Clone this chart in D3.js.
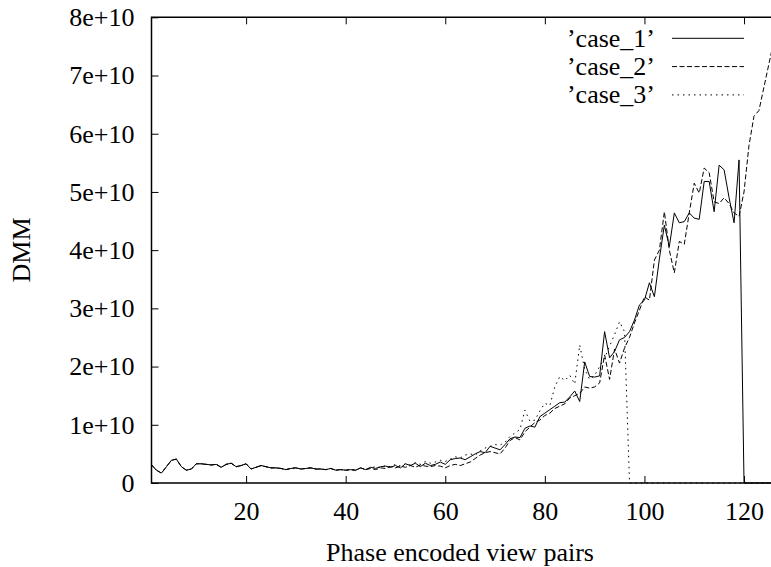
<!DOCTYPE html>
<html>
<head>
<meta charset="utf-8">
<script src="https://cdn.jsdelivr.net/npm/d3@7"></script>
<style>
  body { margin: 0; background: #fff; }
  svg text { font-family: "Liberation Serif", "Times New Roman", serif; font-size: 26px; fill: #000; }
</style>
</head>
<body>
<div id="canvas"></div>
<script>
// values in units of 1e9, one per view pair starting at 1
var case1 = [3.1,2.2,1.7,2.8,3.9,4.1,2.8,2.2,2.4,3.3,
  3.3,3.2,3.1,3.2,2.7,3.2,3.4,2.8,3.0,3.3,
  2.4,2.7,3.0,2.8,2.6,2.6,2.5,2.3,2.5,2.6,
  2.4,2.5,2.6,2.4,2.4,2.3,2.5,2.2,2.3,2.2,
  2.3,2.2,2.6,2.3,2.7,2.5,2.8,2.9,2.7,3.0,
  2.6,3.3,3.0,3.4,2.8,3.4,3.0,3.2,3.6,3.2,
  4.0,4.2,4.3,4.0,4.5,5.0,5.4,5.2,6.3,6.0,
  5.7,6.6,7.6,7.9,7.8,9.4,9.8,9.6,11.4,12.0,
  12.6,13.2,13.8,13.9,14.8,15.8,14.0,20.8,18.3,18.2,
  18.4,26.0,21.5,22.6,24.6,25.0,26.0,28.0,30.6,31.4,
  34.4,32.0,38.5,44.3,40.6,46.4,44.7,44.9,46.4,45.5,
  45.3,51.8,51.8,46.6,54.6,53.8,49.0,44.7,55.5,0,
  0,0,0,0,0,0];

var case2 = [3.1,2.2,1.7,2.8,3.9,4.1,2.8,2.2,2.4,3.3,
  3.3,3.2,3.1,3.2,2.7,3.2,3.4,2.8,3.0,3.3,
  2.4,2.7,3.0,2.8,2.6,2.6,2.5,2.3,2.5,2.6,
  2.4,2.5,2.6,2.4,2.4,2.3,2.5,2.2,2.3,2.2,
  2.3,2.2,2.6,2.3,2.5,2.3,2.6,2.5,2.8,2.6,
  2.9,2.7,3.0,2.7,3.1,2.9,2.8,3.0,2.9,2.6,
  3.0,3.2,3.0,3.3,3.6,4.2,4.8,5.2,5.4,5.2,
  5.0,6.0,7.3,7.8,7.4,8.8,9.6,10.4,10.8,11.6,
  12.0,12.8,13.2,13.6,14.6,15.0,15.4,16.5,16.3,16.5,
  17.2,22.0,17.8,23.0,20.6,23.2,25.0,27.5,29.7,32.0,
  31.4,38.3,40.0,46.6,40.0,36.1,41.5,41.0,46.4,51.5,
  49.8,54.1,53.3,48.3,48.0,49.0,48.0,46.4,45.8,50.0,
  58.0,63.0,64.0,68.0,72.0,76.0];

var case3 = [3.1,2.2,1.7,2.8,3.9,4.1,2.8,2.2,2.4,3.3,
  3.3,3.2,3.1,3.2,2.7,3.2,3.4,2.8,3.0,3.3,
  2.4,2.7,3.0,2.8,2.6,2.6,2.5,2.3,2.5,2.6,
  2.4,2.5,2.6,2.4,2.4,2.3,2.5,2.2,2.3,2.2,
  2.3,2.2,2.6,2.3,2.6,2.8,2.6,3.0,2.8,3.2,
  2.9,3.3,3.1,3.5,3.2,3.7,3.4,3.6,3.9,3.7,
  4.1,4.5,4.3,4.8,5.0,4.8,5.5,6.0,6.3,6.6,
  6.5,7.0,8.0,8.6,9.2,12.5,10.6,10.8,12.4,13.7,
  13.3,16.5,18.3,17.6,18.5,17.0,23.7,19.5,17.8,18.5,
  20.0,21.5,23.5,25.5,27.7,26.0,0,0,0,0,
  0,0,0,0,0,0,0,0,0,0,
  0,0,0,0,0,0,0,0,0,0,
  0,0,0,0,0,0];

var seriesNames = ["\u2019case_1\u2019", "\u2019case_2\u2019", "\u2019case_3\u2019"];
var seriesDash = [null, "5,2.5", "1.5,4"];
var xTicks = [20, 40, 60, 80, 100, 120];
var yTicks = [0, 1e10, 2e10, 3e10, 4e10, 5e10, 6e10, 7e10, 8e10];

var outerWidth = 771, outerHeight = 567;

var svg = d3.select('#canvas')
    .append('svg')
    .attr('width', outerWidth)
    .attr('height', outerHeight);

// plot runs a little past the right edge of the window, like the original
var scaleX = d3.scaleLinear().domain([1, 126]).range([151.5, 773.9]);
var scaleY = d3.scaleLinear().domain([0, 8e10]).range([483, 17.3]);

var series = [case1, case2, case3].map(function(vals, i){
    return {
        name: seriesNames[i],
        dash: seriesDash[i],
        points: vals.map(function(v, j){ return {x: j + 1, y: v * 1e9}; })
    };
});

var line = d3.line()
    .x(function(d){ return scaleX(d.x); })
    .y(function(d){ return scaleY(d.y); });

// data lines
svg.append('g').selectAll('.series')
    .data(series)
    .enter()
    .append('path')
    .attr('class', 'series')
    .attr('d', function(d){ return line(d.points); })
    .attr('fill', 'none')
    .attr('stroke', '#000')
    .attr('stroke-width', 1)
    .attr('stroke-dasharray', function(d){ return d.dash; });

// axes
var axisX = d3.axisBottom(scaleX)
    .tickValues(xTicks)
    .tickSize(-7)
    .tickPadding(19);
var axisXTop = d3.axisTop(scaleX)
    .tickValues(xTicks)
    .tickSize(-7)
    .tickFormat('');
var axisY = d3.axisLeft(scaleY)
    .tickValues(yTicks)
    .tickSize(-7)
    .tickPadding(17)
    .tickFormat(function(d){ return d === 0 ? '0' : (d / 1e10) + 'e+10'; });

svg.append('g').attr('class', 'axis axis-x')
    .attr('transform', 'translate(0,483)')
    .call(axisX);
svg.append('g').attr('class', 'axis axis-x-top')
    .attr('transform', 'translate(0,17.3)')
    .call(axisXTop);
svg.append('g').attr('class', 'axis axis-y')
    .attr('transform', 'translate(151.5,0)')
    .call(axisY);

svg.selectAll('.axis .domain').remove();
svg.selectAll('.axis line').attr('stroke', '#000').attr('stroke-width', 1);
svg.selectAll('.axis').attr('font-family', null).attr('font-size', null);

// border (left, top, bottom; right side is beyond the window)
svg.append('path')
    .attr('d', 'M' + scaleX(126) + ',' + scaleY(8e10) + 'H' + scaleX(1) + 'V' + scaleY(0) + 'H' + scaleX(126))
    .attr('fill', 'none')
    .attr('stroke', '#000')
    .attr('stroke-width', 1.5);

// axis labels
svg.append('text')
    .attr('x', 460)
    .attr('y', 561)
    .attr('text-anchor', 'middle')
    .text('Phase encoded view pairs');

svg.append('text')
    .attr('transform', 'translate(22,250) rotate(-90)')
    .attr('dy', '0.32em')
    .attr('text-anchor', 'middle')
    .text('DMM');

// legend
var legend = svg.append('g').selectAll('.legend')
    .data(series)
    .enter()
    .append('g')
    .attr('class', 'legend')
    .attr('transform', function(d, i){ return 'translate(0,' + (38.3 + i * 28.3) + ')'; });

legend.append('text')
    .attr('x', 655)
    .attr('dy', '0.32em')
    .attr('text-anchor', 'end')
    .text(function(d){ return d.name; });

legend.append('line')
    .attr('x1', 672)
    .attr('x2', 744)
    .attr('stroke', '#000')
    .attr('stroke-width', 1)
    .attr('stroke-dasharray', function(d){ return d.dash; });
</script>
</body>
</html>
